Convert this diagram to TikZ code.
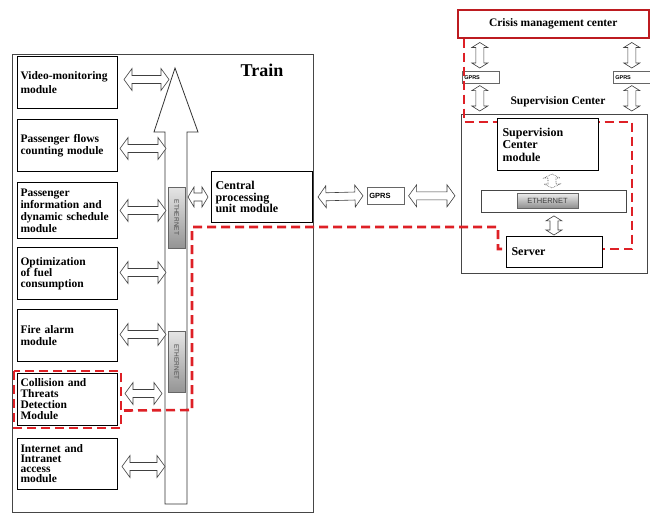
\documentclass[tikz,border=0pt]{standalone}
\usepackage{fontspec}
\setmainfont{Liberation Serif}
\setsansfont{Liberation Sans}
\usetikzlibrary{calc}
\definecolor{dred}{RGB}{222,32,38}
\definecolor{bgray}{RGB}{70,70,70}
\tikzset{
  mod/.style={draw=black, line width=1pt, fill=white, inner sep=3pt, align=left,
    anchor=north west, font=\bfseries\fontsize{11.5}{12}\selectfont},
  plainbox/.style={draw=bgray, line width=0.9pt, anchor=north west, inner sep=0pt},
  arrowline/.style={draw=black!75, fill=white, line width=0.6pt, line join=miter},
  reddash/.style={draw=dred, line width=2.6pt, dash pattern=on 9pt off 5pt},
  ethv/.style={draw=black!60, line width=0.5pt, rotate=-90, minimum width=61pt, minimum height=17pt,
    inner sep=0pt, top color=black!10, bottom color=black!42, text=black!70,
    font=\sffamily\fontsize{6.5}{7}\selectfont},
  ethh/.style={draw=black!60, line width=0.5pt, minimum width=61pt, minimum height=15pt,
    inner sep=0pt, top color=black!8, bottom color=black!45, text=black!75,
    font=\sffamily\fontsize{7.5}{8}\selectfont},
  gprsbox/.style={draw=black!60, line width=0.6pt, anchor=north west, align=left, inner sep=2pt,
    font=\sffamily\bfseries\fontsize{7.5}{8}\selectfont},
  gprssm/.style={gprsbox, minimum width=37pt, minimum height=12pt, text width=33pt,
    font=\sffamily\bfseries\fontsize{5.5}{6}\selectfont},
}
% hollow double arrow between two points
% #1 extra style, #2 start, #3 end, #4 head length, #5 head half width, #6 shaft half width
\newcommand\darr[6][]{%
  \path let \p1=(#2), \p2=(#3), \n1={veclen(\x2-\x1,\y2-\y1)}, \n2={atan2(\y2-\y1,\x2-\x1)} in
    \pgfextra{\xdef\darrL{\n1}\xdef\darrA{\n2}\xdef\darrX{\x1}\xdef\darrY{\y1}};
  \begin{scope}[shift={(\darrX,\darrY)}, rotate=\darrA, x=1pt, y=1pt]
    \draw[arrowline,#1] (0,0) -- (#4,#5) -- (#4,#6) -- ({\darrL-#4},#6) -- ({\darrL-#4},#5)
      -- (\darrL,0) -- ({\darrL-#4},-#5) -- ({\darrL-#4},-#6) -- (#4,-#6) -- (#4,-#5) -- cycle;
  \end{scope}}
\begin{document}
\begin{tikzpicture}[x=1pt, y=-1pt]
\useasboundingbox[fill=white] (0,0) rectangle (650,514);

% Train box
\node[plainbox, minimum width=301pt, minimum height=458pt] (train) at (12,54) {};
\node[font=\bfseries\fontsize{18}{18}\selectfont] (trainlbl) at (262,70) {Train};

% modules
\node[mod, minimum width=100pt, minimum height=52pt, text width=94pt,
  font=\bfseries\fontsize{11.5}{14}\selectfont] (video) at (17,56) {Video-monitoring\\module};
\node[mod, minimum width=100pt, minimum height=52pt, text width=94pt] (flows) at (17,119) {Passenger flows\\counting module};
\node[mod, minimum width=100pt, minimum height=56pt, text width=94pt] (info) at (17,182) {Passenger\\information and\\dynamic schedule\\module};
\node[mod, minimum width=100pt, minimum height=52pt, text width=94pt,
  font=\bfseries\fontsize{11.5}{11}\selectfont] (opt) at (17,247) {Optimization\\of fuel\\consumption};
\node[mod, minimum width=100pt, minimum height=52pt, text width=94pt] (fire) at (17,309) {Fire alarm\\module};
\node[mod, minimum width=100pt, minimum height=52pt, text width=94pt,
  font=\bfseries\fontsize{11.5}{11}\selectfont] (coll) at (17,373) {Collision and\\Threats\\Detection\\Module};
\node[mod, minimum width=100pt, minimum height=51pt, text width=94pt,
  font=\bfseries\fontsize{11.5}{10}\selectfont] (inet) at (17,438) {Internet and\\Intranet\\access\\module};
\draw[reddash] ($(coll.north west)+(-3,-2)$) rectangle ($(coll.south east)+(3,2)$);

% bus arrow
\draw[draw=black!80, line width=0.8pt, fill=white]
  (165,504) -- (165,132) -- (154,132) -- (175,68) -- (198,132) -- (187,132) -- (187,504) -- cycle;
\node[ethv] (eth1) at (176.5,217.5) {ETHERNET};
\node[ethv] (eth2) at (176.5,362) {ETHERNET};

% CPU and GPRS
\node[mod, minimum width=101pt, minimum height=51pt, text width=93pt, inner sep=4pt,
  font=\bfseries\fontsize{12}{11.5}\selectfont] (cpu) at (211,171) {Central\\processing\\unit module};
\node[gprsbox, minimum width=37pt, minimum height=17pt, text width=33pt] (gprs) at (367,187) {GPRS};

% module arrows
\darr{$(video.east)+(6,-3)$}{$(video.east)+(51,-3)$}{8}{11}{4}
\darr{$(flows.east)+(2,3)$}{$(flows.east)+(48,3)$}{8}{11}{4}
\darr{$(info.east)+(2,0)$}{$(info.east)+(48,0)$}{8}{11}{4}
\darr{$(opt.east)+(2,-1)$}{$(opt.east)+(48,-1)$}{8}{11}{4}
\darr{$(fire.east)+(2,-1)$}{$(fire.east)+(48,-1)$}{8}{11}{4}
\darr{$(coll.east)+(7,-6)$}{$(coll.east)+(44,-6)$}{8}{11}{4}
\darr{$(inet.east)+(4,2.5)$}{$(inet.east)+(47,2.5)$}{8}{11}{4}
\darr{$(cpu.west)+(-23,0)$}{$(cpu.west)+(-3,0)$}{6}{10}{4}
\darr{$(cpu.east)+(5,0)$}{$(gprs.west)+(-4,0)$}{8}{11}{4}

% Supervision center
\node[plainbox, minimum width=186pt, minimum height=159pt] (sc) at (461,114) {};
\node[font=\bfseries\fontsize{11.5}{12}\selectfont] (sclbl) at (558,102) {Supervision Center};
\darr{$(gprs.east)+(4,0)$}{$(gprs.east -| sc.west)+(-6,0)$}{8}{11}{4}

% Crisis management center
\node[draw=dred!85!black, line width=1.5pt, anchor=north west, minimum width=191pt, minimum height=28pt,
  inner sep=0pt, font=\bfseries\fontsize{11.5}{12}\selectfont] (crisis) at (457,9) {Crisis management center};
\node[gprssm] (g1) at (462,71) {GPRS};
\node[gprssm] (g2) at (613,71) {GPRS};
\darr{$(g1.north |- crisis.south)+(-1,4)$}{$(g1.north)+(-1,-3)$}{5}{8}{4}
\darr{$(g1.south)+(-1,2)$}{$(g1.south |- sc.north)+(-1,-3)$}{5}{8}{4}
\darr{$(g2.north |- crisis.south)+(0,4)$}{$(g2.north)+(0,-3)$}{5}{8}{4}
\darr{$(g2.south)+(0,2)$}{$(g2.south |- sc.north)+(0,-3)$}{5}{8}{4}

% red path 1 (behind supervision module)
\coordinate (r1) at ($(crisis.south west)+(7,0)$);
\node[mod, minimum width=96pt, minimum height=31pt, text width=86pt, inner sep=5pt,
  font=\bfseries\fontsize{12}{12}\selectfont] (server) at (506,236) {Server};
\draw[reddash] (r1) -- (r1 |- 0,122) -- (632,122) -- (632,249) -- (server.east |- 0,249);

\node[mod, minimum width=101pt, minimum height=52pt, text width=91pt, inner sep=5pt,
  font=\bfseries\fontsize{12}{12.5}\selectfont] (scm) at (497,118) {Supervision\\Center\\module};
\node[plainbox, minimum width=145pt, minimum height=22pt] (ebar) at (481,190) {};
\node[ethh] (eth3) at (547.5,201) {ETHERNET};
\darr[densely dotted]{$(scm.south)+(4,3)$}{$(scm.south |- ebar.north)+(4,-2)$}{4}{8}{4}
\darr{$(ebar.south)+(0,3)$}{$(ebar.south |- server.north)+(0,-1)$}{5}{8}{4}

% red path 2
\draw[reddash] ($(coll.east)+(6,11)$) -- (192,410) -- (192,227) -- (498,227) -- (498,249) -- (server.west |- 0,249);
\end{tikzpicture}
\end{document}
